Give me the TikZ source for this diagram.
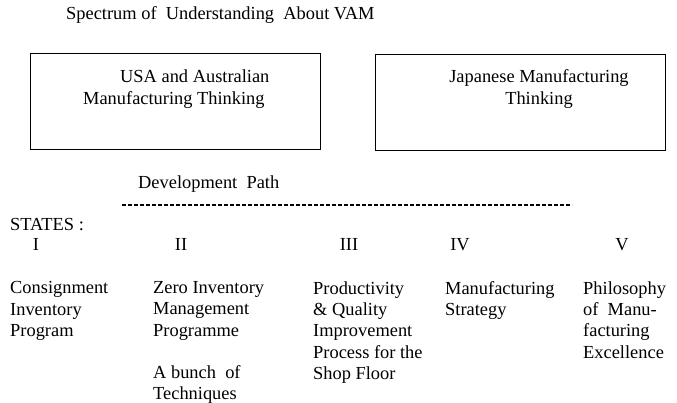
\documentclass[tikz,border=0pt]{standalone}
\usepackage{fontspec}
\setmainfont{Liberation Serif}
\begin{document}
\begin{tikzpicture}[
    x=1pt, y=-1pt,
    every node/.style={inner sep=0pt, font=\fontsize{18.4}{21.2}\selectfont},
    plaintext/.style={anchor=base west},
    numeral/.style={anchor=base},
    colnote/.style={anchor=north west, align=left},
    thinkbox/.style={draw, line width=1.2pt, anchor=north west, minimum width=290pt, minimum height=96pt}
]

% Canvas
\useasboundingbox (0,0) rectangle (677,403);

% Title
\node[plaintext] (title) at (66,20) {Spectrum of\ \ Understanding\ \ About VAM};

% Thinking Boxes
\node[thinkbox] (usa) at (30,53) {};
\node[plaintext] (usaA) at (120,83) {USA and Australian};
\node[plaintext] (usaB) at (83,104.5) {Manufacturing Thinking};

\node[thinkbox] (japan) at (375,54) {};
\node[numeral] (japanA) at (539,83) {Japanese Manufacturing};
\node[numeral] (japanB) at (539,104.5) {Thinking};

% Development Path
\node[plaintext] (devpath) at (138,189) {Development\ \ Path};
\coordinate (pathL) at (122,205);
\coordinate (pathR) at (572,205);
\draw[line width=1.5pt, dash pattern=on 4pt off 2pt] (pathL) -- (pathR);

% States
\node[plaintext] (states) at (10,231) {STATES :};
\node[numeral] (s1) at (36,251) {I};
\node[numeral] (s2) at (181,251) {II};
\node[numeral] (s3) at (349,251) {III};
\node[numeral] (s4) at (460,251) {IV};
\node[numeral] (s5) at (622,251) {V};

% Stage Descriptions
\node[colnote] (c1) at (10,281.5) {Consignment\\Inventory\\Program};
\node[colnote] (c2) at (153,281.5) {Zero Inventory\\Management\\Programme\\[21.2pt]A bunch\ \ of\\Techniques};
\node[colnote] (c3) at (313,281.5) {Productivity\\\& Quality\\Improvement\\Process for the\\Shop Floor};
\node[colnote] (c4) at (445,281.5) {Manufacturing\\Strategy};
\node[colnote] (c5) at (583,281.5) {Philosophy\\of\ \ Manu-\\facturing\\Excellence};

\end{tikzpicture}
\end{document}
